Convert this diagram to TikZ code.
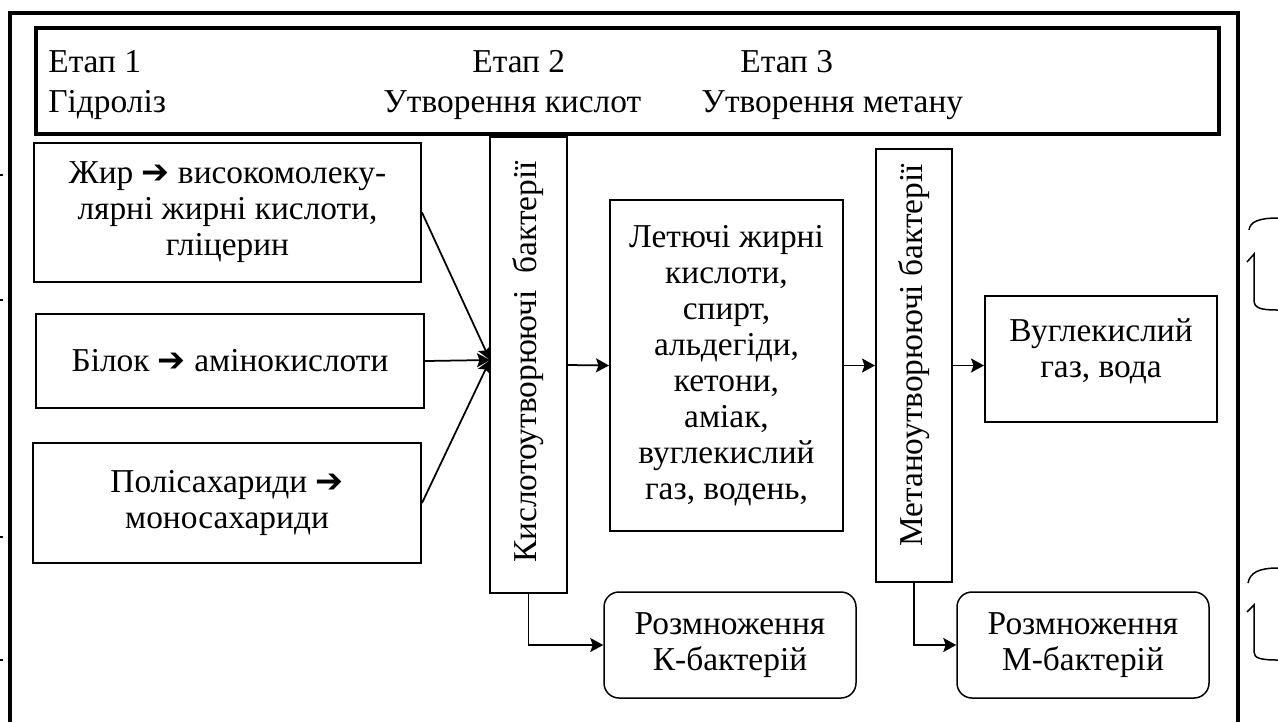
\documentclass[tikz,border=0pt]{standalone}
\usepackage{fontspec}
\setmainfont{Liberation Serif}
\newfontfamily\arrowfont{DejaVu Sans}
\usetikzlibrary{arrows.meta,calc}
\newcommand{\harr}{{\arrowfont ➔}}

\begin{document}
\begin{tikzpicture}[x=0.2mm,y=-0.2mm,font=\fontsize{19}{20.5}\selectfont,
    box/.style={draw,line width=0.4mm,inner sep=0pt,align=center},
    rbox/.style={draw,line width=0.3mm,rounded corners=3mm,inner sep=0pt,align=center},
    stage/.style={anchor=base west,inner sep=0pt},
    arr/.style={line width=0.35mm,-{Stealth[length=2.6mm,width=2.8mm,inset=0.5mm]}}]
    \def\u{0.2mm}
    \useasboundingbox (0,0) rectangle (1278,722);
    \draw[line width=0.8mm] (10,722) -- (10,13) -- (1238,13) -- (1238,722);
    \node[box,line width=0.8mm,minimum width=1183*\u,minimum height=106*\u] (hdr) at (627.5,81) {};
    \node[stage] (e1) at (48,72) {Етап 1};
    \node[stage] (g1) at (48,112) {Гідроліз};
    \node[stage] (e2) at (472,72) {Етап 2};
    \node[stage] (g2) at (383,112) {Утворення кислот};
    \node[stage] (e3) at (740,72) {Етап 3};
    \node[stage] (g3) at (701,112) {Утворення метану};
    \node[box,minimum width=387*\u,minimum height=139*\u] (zhyr) at (227.5,212.5) {Жир \harr{} високомолеку-\\лярні жирні кислоти,\\гліцерин};
    \node[box,minimum width=388*\u,minimum height=94*\u] (bilok) at (230,361) {Білок \harr{} амінокислоти};
    \node[box,minimum width=388*\u,minimum height=120*\u] (poli) at (227,503) {Полісахариди \harr\\моносахариди};
    \node[box,minimum width=77*\u,minimum height=456*\u] (kbar) at (528.5,365) {};
    \node[rotate=90] (ktext) at ($(kbar.center)+(0,-3)$) {Кислотоутворюючі\ \ бактерії};
    \node[box,minimum width=233*\u,minimum height=331*\u] (letuchi) at (726.5,365.5) {Летючі жирні\\кислоти,\\спирт,\\альдегіди,\\кетони,\\аміак,\\вуглекислий\\газ, водень,};
    \node[box,minimum width=76*\u,minimum height=433*\u] (mbar) at (914,365.5) {};
    \node[rotate=90] (mtext) at ($(mbar.center)+(0,-10)$) {Метаноутворюючі бактерії};
    \node[box,minimum width=232*\u,minimum height=126*\u] (vugl) at (1101,359) {Вуглекислий\\газ, вода\\[-3mm]};
    \node[rbox,minimum width=252*\u,minimum height=106*\u] (krozm) at (730,645) {Розмноження\\К-бактерій};
    \node[rbox,minimum width=252*\u,minimum height=106*\u] (mrozm) at (1083,645) {Розмноження\\М-бактерій};
    \coordinate (kin) at (490,360);
    \draw[arr] (zhyr.east) -- (kin);
    \draw[arr] (bilok.east) -- (kin);
    \draw[arr] (poli.east) -- (kin);
    \draw[arr] (kbar.east) -- (letuchi.west);
    \draw[arr] (letuchi.east) -- (mbar.west);
    \draw[arr] (mbar.east) -- (mbar.east -| vugl.west);
    \draw[arr] (kbar.south) |- (krozm.west);
    \draw[arr] (mbar.south) |- (mrozm.west);
    \draw[line width=0.3mm] (1278,218) .. controls (1258,218) and (1250,222) .. (1249,230);
    \draw[line width=0.3mm] (1247,262) -- (1254,254) -- (1254,300) .. controls (1254,308) and (1260,310) .. (1278,310);
    \draw[line width=0.3mm] (1278,568) .. controls (1258,568) and (1250,573) .. (1248,583);
    \draw[line width=0.3mm] (1247,612) -- (1254,605) -- (1254,652) .. controls (1254,658) and (1260,660) .. (1278,660);
    \foreach \yy in {175,300,537,660}
      \draw[line width=0.4mm] (0,\yy) -- (3,\yy);
  \end{tikzpicture}
\end{document}
